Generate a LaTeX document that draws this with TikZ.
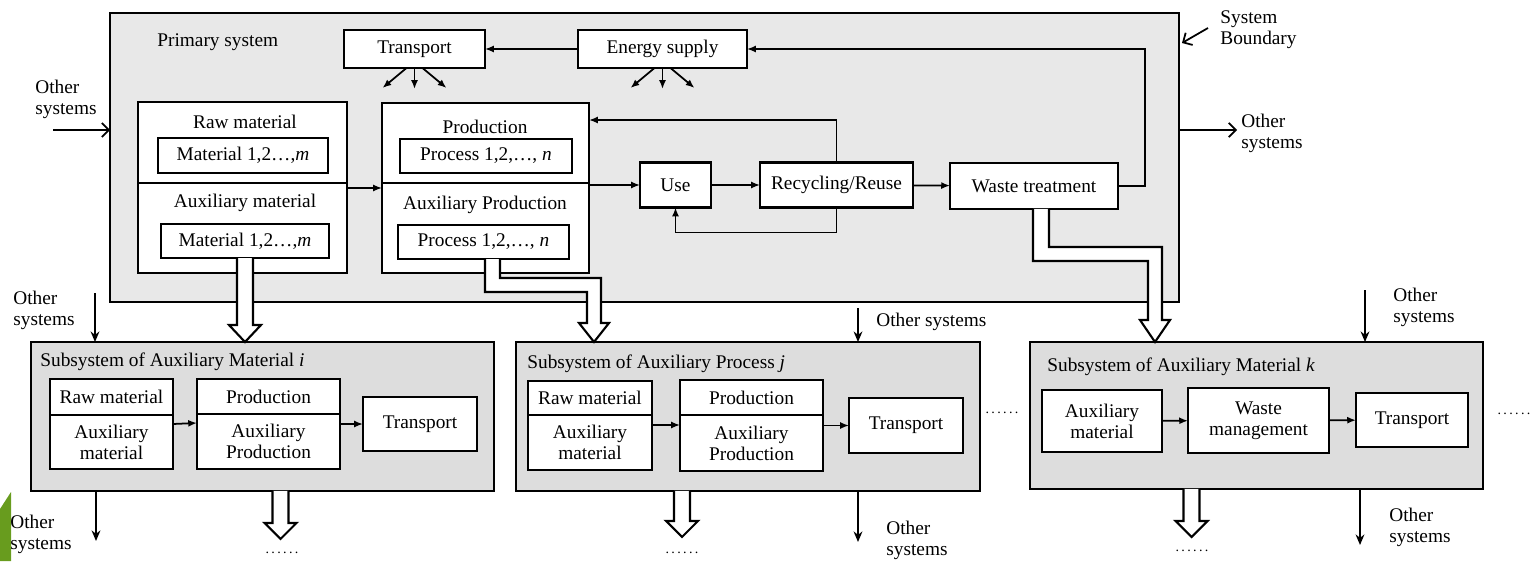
\documentclass[tikz,border=0pt]{standalone}
\usepackage{fontspec}
\setmainfont{Liberation Serif}
\usepackage{tikz}
\usetikzlibrary{arrows.meta, positioning, calc}

\definecolor{primfill}{RGB}{232,232,232}
\definecolor{subfill}{RGB}{221,221,221}
\definecolor{slidegreen}{RGB}{104,156,30}

\begin{document}
\begin{tikzpicture}[
x=0.02cm, y=-0.02cm,
font=\fontsize{11}{12}\selectfont,
sysbox/.style={
rectangle,
draw,
line width=1.3pt,
inner sep=0pt,
outer sep=0pt
},
box/.style={
rectangle,
draw,
line width=1.2pt,
fill=white,
inner sep=1pt,
outer sep=0pt,
align=center
},
lbl/.style={inner sep=0pt, align=left, anchor=west},
dotrow/.style={inner sep=0pt, font=\fontsize{8}{8}\selectfont},
arrow/.style={-{Latex[length=5pt,width=4pt]}, line width=1pt},
openarrow/.style={-{Straight Barb[length=4pt,width=8pt]}, line width=1pt},
otherarrow/.style={-{Stealth[length=6pt,width=5pt]}, line width=1pt},
pipe/.style={draw, line width=1.2pt, fill=white, line join=miter}
]

\useasboundingbox (0,0) rectangle (1534,561);

% slide edge
\fill[slidegreen] (0,509) -- (11,492) -- (11,561) -- (0,561) -- cycle;

% Primary system
\node[sysbox, fill=primfill, minimum width=21.38cm, minimum height=5.78cm] (primary) at (644.5,157.5) {};
\node[lbl] (primlbl) at (157,42) {Primary system};

\node[box, minimum width=2.82cm, minimum height=0.76cm] (transport) at (414.5,49) {Transport};
\node[box, minimum width=3.38cm, minimum height=0.76cm] (energy) at (662.5,49) {Energy supply};

% Raw / auxiliary material
\node[box, minimum width=4.18cm, minimum height=1.62cm] (rawtop) at (242.5,142.5) {};
\node[box, minimum width=4.18cm, minimum height=1.8cm, below=0pt of rawtop] (rawbot) {};
\node (rawlbl) at (245,122) {Raw material};
\node[box, minimum width=3.4cm, minimum height=0.7cm] (mat1) at (243,155.5) {Material 1,2…,\textit{m}};
\node (auxlbl) at (245,203) {Auxiliary material};
\node[box, minimum width=3.36cm, minimum height=0.68cm] (mat2) at (245,241) {Material 1,2…,\textit{m}};

% Production / auxiliary production
\node[box, minimum width=4.14cm, minimum height=1.6cm] (prodtop) at (485.5,143) {};
\node[box, minimum width=4.14cm, minimum height=1.8cm, below=0pt of prodtop] (prodbot) {};
\node (prodlbl) at (485,127) {Production};
\node[box, minimum width=3.44cm, minimum height=0.68cm] (proc1) at (486,156) {Process 1,2,…, \textit{n}};
\node (auxprodlbl) at (485,205) {Auxiliary Production};
\node[box, minimum width=3.42cm, minimum height=0.68cm] (proc2) at (483.5,242) {Process 1,2,…, \textit{n}};

% Use, recycling, waste
\node[box, minimum width=1.42cm, minimum height=0.9cm] (use) at (675.5,185) {Use};
\node[box, minimum width=3.06cm, minimum height=0.9cm] (rec) at (836.5,185) {Recycling/Reuse};
\node[box, minimum width=3.36cm, minimum height=0.92cm] (waste) at (1034,186) {Waste treatment};

% Arrows in primary system
\draw[arrow] ($(rawbot.north east)+(0,5)$) -- ($(prodbot.north west)+(0,5)$);
\draw[arrow] (use.west -| prodbot.east) -- (use.west);
\draw[arrow] (use) -- (rec);
\draw[arrow] (rec) -- (waste);
\draw[arrow] (rec.north) |- ($(prodtop.north east)+(0,17)$);
\draw[arrow] (rec.south) -- ++(0,25) -| (use.south);
\draw[arrow] (waste.east) -- ++(27,0) |- (energy.east);
\draw[arrow] (energy) -- (transport);
\foreach \s in {transport, energy} {
\draw[arrow] ([xshift=-0.16cm]\s.south) -- ++(-24,20);
\draw[arrow] (\s.south) -- ++(0,21);
\draw[arrow] ([xshift=0.16cm]\s.south) -- ++(24,20);
}

% Other systems, boundary
\node[lbl] (osleft) at (35,99) {Other\\systems};
\coordinate (osleftin) at (53,130);
\draw[openarrow] (osleftin) -- (osleftin -| primary.west);
\node[lbl] (osright) at (1241,133) {Other\\systems};
\coordinate (osrightout) at (1237,130);
\draw[openarrow] (osrightout -| primary.east) -- (osrightout);
\node[lbl] (sysbnd) at (1220,30) {System\\Boundary};
\coordinate (bndtip) at (1182,43);
\draw[openarrow] ($(sysbnd.west)+(-12,-2)$) -- (bndtip);

% Subsystem i
\node[sysbox, fill=subfill, minimum width=9.26cm, minimum height=2.98cm] (subi) at (262.5,416.5) {};
\node[lbl] (subilbl) at (40,362) {Subsystem of Auxiliary Material \textit{i}};
\node[box, minimum width=2.46cm, minimum height=0.72cm] (irawt) at (111.5,397) {Raw material};
\node[box, minimum width=2.46cm, minimum height=1.08cm, below=0pt of irawt] (irawb) {Auxiliary\\material};
\node[box, minimum width=2.86cm, minimum height=0.7cm] (iprodt) at (268.5,396.5) {Production};
\node[box, minimum width=2.86cm, minimum height=1.1cm, below=0pt of iprodt] (iprodb) {Auxiliary\\Production};
\node[box, minimum width=2.28cm, minimum height=1.08cm] (itrans) at (420,424) {Transport};
\draw[arrow] ($(irawb.north east)+(0,9)$) -- ($(iprodb.north west)+(0,9)$);
\draw[arrow] (itrans.west -| iprodb.east) -- (itrans);

% Subsystem j
\node[sysbox, fill=subfill, minimum width=9.28cm, minimum height=2.98cm] (subj) at (748,416.5) {};
\node[lbl] (subjlbl) at (527,364) {Subsystem of Auxiliary Process \textit{j}};
\node[box, minimum width=2.48cm, minimum height=0.68cm] (jrawt) at (590,398) {Raw material};
\node[box, minimum width=2.48cm, minimum height=1.1cm, below=0pt of jrawt] (jrawb) {Auxiliary\\material};
\node[box, minimum width=2.86cm, minimum height=0.7cm] (jprodt) at (751.5,397.5) {Production};
\node[box, minimum width=2.86cm, minimum height=1.12cm, below=0pt of jprodt] (jprodb) {Auxiliary\\Production};
\node[box, minimum width=2.28cm, minimum height=1.1cm] (jtrans) at (906,425.5) {Transport};
\draw[arrow] ($(jrawb.north east)+(0,10)$) -- ($(jprodb.north west)+(0,10)$);
\draw[arrow] (jtrans.west -| jprodb.east) -- (jtrans);

% Subsystem k
\node[sysbox, fill=subfill, minimum width=9.06cm, minimum height=2.94cm] (subk) at (1256.5,415.5) {};
\node[lbl] (subklbl) at (1047,367) {Subsystem of Auxiliary Material \textit{k}};
\node[box, minimum width=2.4cm, minimum height=1.24cm] (kaux) at (1102,421) {Auxiliary\\material};
\node[box, minimum width=2.82cm, minimum height=1.3cm] (kwaste) at (1258.5,420.5) {Waste\\management};
\node[box, minimum width=2.24cm, minimum height=1.08cm] (ktrans) at (1412,420) {Transport};
\draw[arrow] (kaux) -- (kwaste);
\draw[arrow] (kwaste) -- (ktrans);

% Other systems of subsystems
\node[lbl] (osi) at (13,310) {Other\\systems};
\coordinate (osiin) at (95,293);
\draw[otherarrow] (osiin) -- (osiin |- subi.north);
\node[lbl] (osj) at (876,322) {Other systems};
\coordinate (osjin) at (858,308);
\draw[otherarrow] (osjin) -- (osjin |- subj.north);
\node[lbl] (osk) at (1393,307) {Other\\systems};
\coordinate (oskin) at (1365,290);
\draw[otherarrow] (oskin) -- (oskin |- subk.north);

\node[lbl] (osiout) at (10,534) {Other\\systems};
\coordinate (osiend) at (96,541);
\draw[otherarrow] (osiend |- subi.south) -- (osiend);
\node[lbl] (osjout) at (886,540) {Other\\systems};
\coordinate (osjend) at (858,542);
\draw[otherarrow] (osjend |- subj.south) -- (osjend);
\node[lbl] (oskout) at (1389,527) {Other\\systems};
\coordinate (oskend) at (1360,545);
\draw[otherarrow] (oskend |- subk.south) -- (oskend);

% Dots
\node[dotrow] (dotsi) at (282,553) {.\,.\,.\,.\,.\,.};
\node[dotrow] (dotsj) at (682,553) {.\,.\,.\,.\,.\,.};
\node[dotrow] (dotsk) at (1192,551) {.\,.\,.\,.\,.\,.};
\node[dotrow] (dotsjk) at (1002,413) {.\,.\,.\,.\,.\,.};
\node[dotrow] (dotsend) at (1514,414) {.\,.\,.\,.\,.\,.};

% Hollow pipes
\draw[pipe] ($(mat2.south)+(-8,0)$) -- ++(0,67) -- ++(-8,0) -- ++(16,17) -- ++(16,-17) -- ++(-8,0) -- ++(0,-67);
\draw[pipe] ($(proc2.south)+(1.5,0)$) -- ++(0,33) -- ++(102,0) -- ++(0,31) -- ++(-8,0) -- ++(15,19) -- ++(15,-19) -- ++(-8,0) -- ++(0,-45) -- ++(-101,0) -- ++(0,-19);
\draw[pipe] ($(waste.south)+(-1,0)$) -- ++(0,52) -- ++(115,0) -- ++(0,59) -- ++(-8,0) -- ++(15,22) -- ++(15,-22) -- ++(-8,0) -- ++(0,-73) -- ++(-113,0) -- ++(0,-38);
\draw[pipe] ($(subi.south)+(10,0)$) -- ++(0,32) -- ++(-8,0) -- ++(16,16) -- ++(16,-16) -- ++(-8,0) -- ++(0,-32);
\draw[pipe] ($(subj.south)+(-74,0)$) -- ++(0,30) -- ++(-8,0) -- ++(16,16) -- ++(16,-16) -- ++(-8,0) -- ++(0,-30);
\draw[pipe] ($(subk.south)+(-73,0)$) -- ++(0,32) -- ++(-8,0) -- ++(16,16) -- ++(16,-16) -- ++(-8,0) -- ++(0,-32);

\end{tikzpicture}
\end{document}
